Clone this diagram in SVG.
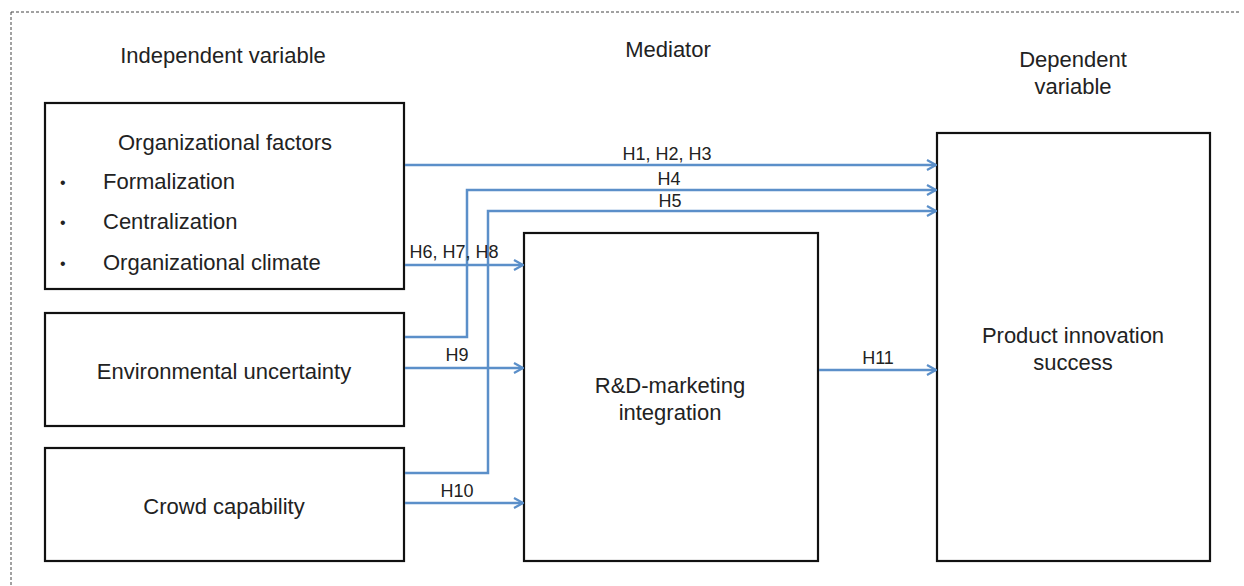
<svg xmlns="http://www.w3.org/2000/svg" width="1244" height="586" viewBox="0 0 1244 586">
<defs>
<style>
.t{font-family:"Liberation Sans",Arial,sans-serif;font-size:22px;fill:#222}
.b{font-family:"Liberation Sans",Arial,sans-serif;font-size:16px;fill:#222}
.l{font-family:"Liberation Sans",Arial,sans-serif;font-size:18px;fill:#222}
.box{fill:#fff;stroke:#111;stroke-width:2.2}
.c{fill:none;stroke:#5B8FC9;stroke-width:2.5;marker-end:url(#ah)}
</style>
<marker id="ah" viewBox="0 0 12 12" refX="11" refY="6" markerWidth="12" markerHeight="12" markerUnits="userSpaceOnUse" orient="auto">
<path d="M2,1 L11,6 L2,11" fill="none" stroke="#5B8FC9" stroke-width="2.2"/>
</marker>
</defs>
<rect width="1244" height="586" fill="#fff"/>
<path d="M11,12 H1241 M11,12 V586" fill="none" stroke="#444" stroke-width="1" stroke-dasharray="3,2"/>
<text class="t" x="223" y="63" text-anchor="middle">Independent variable</text>
<text class="t" x="668" y="57" text-anchor="middle">Mediator</text>
<text class="t" x="1073" y="67" text-anchor="middle">Dependent</text>
<text class="t" x="1073" y="94" text-anchor="middle">variable</text>
<g id="org">
<rect class="box" x="45" y="103" width="359" height="186"/>
<text class="t" x="225" y="150" text-anchor="middle">Organizational factors</text>
<text class="b" x="60" y="188">•</text>
<text class="t" x="103" y="189">Formalization</text>
<text class="b" x="60" y="228">•</text>
<text class="t" x="103" y="229">Centralization</text>
<text class="b" x="60" y="269">•</text>
<text class="t" x="103" y="270">Organizational climate</text>
</g>
<g id="env">
<rect class="box" x="45" y="313" width="359" height="113"/>
<text class="t" x="224" y="379" text-anchor="middle">Environmental uncertainty</text>
</g>
<g id="crowd">
<rect class="box" x="45" y="448" width="359" height="113"/>
<text class="t" x="224" y="514" text-anchor="middle">Crowd capability</text>
</g>
<g id="rd">
<rect class="box" x="524" y="233" width="294" height="328"/>
<text class="t" x="670" y="393" text-anchor="middle">R&amp;D-marketing</text>
<text class="t" x="670" y="420" text-anchor="middle">integration</text>
</g>
<g id="pis">
<rect class="box" x="937" y="133" width="273" height="428"/>
<text class="t" x="1073" y="343" text-anchor="middle">Product innovation</text>
<text class="t" x="1073" y="370" text-anchor="middle">success</text>
</g>
<g id="connectors">
<path class="c" d="M405,165 H936"/>
<path class="c" d="M405,337 H467 V190 H936"/>
<path class="c" d="M405,473 H488 V211 H936"/>
<path class="c" d="M405,265 H523"/>
<path class="c" d="M405,368 H523"/>
<path class="c" d="M405,503 H523"/>
<path class="c" d="M819,370 H936"/>
<text class="l" x="667" y="160" text-anchor="middle">H1, H2, H3</text>
<text class="l" x="669" y="185" text-anchor="middle">H4</text>
<text class="l" x="670" y="207" text-anchor="middle">H5</text>
<text class="l" x="454" y="258" text-anchor="middle">H6, H7, H8</text>
<text class="l" x="457" y="361" text-anchor="middle">H9</text>
<text class="l" x="457" y="497" text-anchor="middle">H10</text>
<text class="l" x="878" y="364" text-anchor="middle">H11</text>
</g>
</svg>
